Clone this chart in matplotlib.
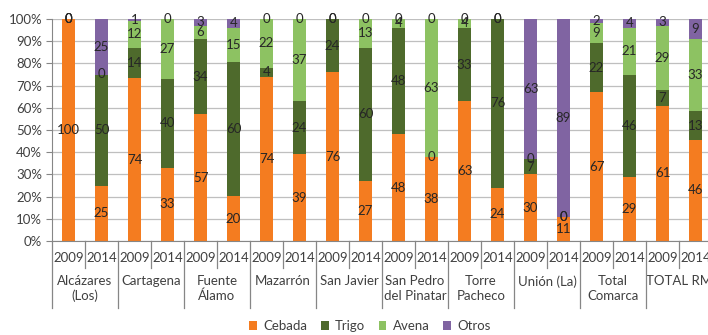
import matplotlib
matplotlib.use("Agg")
import matplotlib.pyplot as plt
import matplotlib.transforms as mtransforms
from matplotlib.patches import Patch
from matplotlib.lines import Line2D
import numpy as np

plt.rcParams['font.family'] = ['Lato', 'DejaVu Sans']

groups = ["Alcázares\n(Los)", "Cartagena", "Fuente\nÁlamo", "Mazarrón", "San Javier",
          "San Pedro\ndel Pinatar", "Torre\nPacheco", "Unión (La)", "Total\nComarca", "TOTAL RM"]
years = ["2009", "2014"]
series = ["Cebada", "Trigo", "Avena", "Otros"]
cebada = [100, 25, 74, 33, 57, 20, 74, 39, 76, 27, 48, 38, 63, 24, 30, 11, 67, 29, 61, 46]
trigo  = [0, 50, 14, 40, 34, 60, 4, 24, 24, 60, 48, 0, 33, 76, 7, 0, 22, 46, 7, 13]
avena  = [0, 0, 12, 27, 6, 15, 22, 37, 0, 13, 4, 63, 4, 0, 0, 0, 9, 21, 29, 33]
otros  = [0, 25, 1, 0, 3, 4, 0, 0, 0, 0, 0, 0, 0, 0, 63, 89, 2, 4, 3, 9]
colors = ["#F47C20", "#4E6A2C", "#8DC262", "#8064A2"]

W, H = 708, 335
fig = plt.figure(figsize=(W/100, H/100), dpi=100)
ax = fig.add_axes([52/W, (H-241)/H, 660/W, 222/H])

data = np.array([cebada, trigo, avena, otros], dtype=float)
tot = data.sum(axis=0)
pct = data / tot * 100
n = data.shape[1]
x = np.arange(n)
bottom = np.zeros(n)
for k in range(4):
    ax.bar(x, pct[k], bottom=bottom, width=0.41, color=colors[k], zorder=2)
    for i in range(n):
        yc = bottom[i] + pct[k][i] / 2
        ax.text(x[i], yc, str(int(data[k][i])), ha='center', va='center',
                fontsize=9.5, color='#262626', zorder=3)
    bottom += pct[k]

ax.set_xlim(-0.5, n - 0.5)
ax.set_ylim(0, 100)
ax.set_yticks(np.arange(0, 101, 10))
ax.set_yticklabels([f"{v}%" for v in range(0, 101, 10)], fontsize=9.5, color='#404040')
ax.yaxis.grid(True, color='#BFBFBF', linewidth=0.9, zorder=0)
ax.set_axisbelow(True)
ax.set_xticks([])
for s in ['top', 'right']:
    ax.spines[s].set_visible(False)
ax.spines['left'].set_color('#868686')
ax.spines['bottom'].set_color('#868686')
ax.tick_params(axis='y', length=4, color='#868686', pad=3)

trans = mtransforms.blended_transform_factory(ax.transData, fig.transFigure)
for i in range(n):
    ax.text(x[i], 1 - 258/H, years[i % 2], transform=trans, ha='center', va='center',
            fontsize=9.5, color='#404040', clip_on=False)
for i in range(n + 1):
    yb = 1 - (308/H if i % 2 == 0 else 268/H)
    ln = Line2D([i - 0.5, i - 0.5], [1 - 241/H, yb], transform=trans, color='#868686',
                linewidth=0.9, clip_on=False)
    fig.add_artist(ln)
for g, name in enumerate(groups):
    ax.text(2*g + 0.5, 1 - 275/H, name, transform=trans, ha='center', va='top',
            fontsize=9.5, color='#404040', linespacing=1.25, clip_on=False)

handles = [Patch(facecolor=c, edgecolor='none') for c in colors]
fig.legend(handles, series, loc='center', bbox_to_anchor=(370/W, 1 - 326/H), ncol=4,
           frameon=False, fontsize=9.5, handlelength=0.6, handleheight=0.6,
           handletextpad=0.5, columnspacing=1.0, labelcolor='#404040')

fig.savefig("out.png", dpi=100)
